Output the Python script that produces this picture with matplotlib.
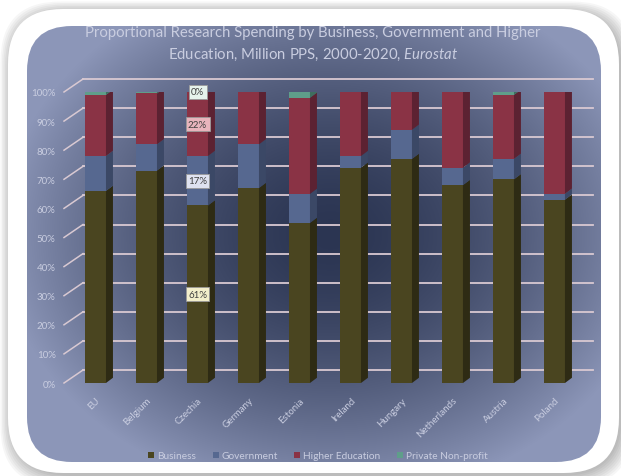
import numpy as np
import matplotlib
matplotlib.use("Agg")
import matplotlib.pyplot as plt
from matplotlib.patches import FancyBboxPatch, Polygon
from matplotlib.lines import Line2D

plt.rcParams['font.family'] = ['Lato', 'DejaVu Sans']
plt.rcParams['mathtext.fontset'] = 'custom'
plt.rcParams['mathtext.rm'] = 'Lato'
plt.rcParams['mathtext.it'] = 'Lato:italic'

countries = ["EU", "Belgium", "Czechia", "Germany", "Estonia", "Ireland",
             "Hungary", "Netherlands", "Austria", "Poland"]
business = [66, 73, 61, 67, 55, 74, 77, 68, 70, 63]
government = [12, 9, 17, 15, 10, 4, 10, 6, 7, 2]
higher_ed = [21, 17.5, 22, 18, 33, 22, 13, 26, 22, 35]
private_np = [1, 0.5, 0, 0, 2, 0, 0, 0, 1, 0]
series_names = ["Business", "Government", "Higher Education", "Private Non-profit"]
yticks = [0, 10, 20, 30, 40, 50, 60, 70, 80, 90, 100]
label_country = "Czechia"

front = ["#4a4520", "#566890", "#8a3345", "#5f9e8a"]
side = ["#2e2b14", "#3b4866", "#5c2232", "#3f6e5e"]
top_col = "#6fae98"
box_col = ["#f2eecb", "#dfe2f0", "#e8b4bc", "#e6f3ec"]
txt_col = "#c9cde0"
grid_col = "#d9c9d2"

W, H = 621, 477
fig = plt.figure(figsize=(W / 100, H / 100), dpi=100)
fig.patch.set_facecolor("white")

# background decoration in pixel coordinates
bg = fig.add_axes([0, 0, 1, 1], zorder=0)
bg.set_xlim(0, W)
bg.set_ylim(H, 0)
bg.axis("off")
for k in range(8):
    bg.add_patch(FancyBboxPatch((8 - k * 1.5 + 3, 10 - k * 1.5 + 3), 611 + k * 3, 464 + k * 3,
                                boxstyle="round,pad=0,rounding_size=60",
                                fc="#000000", ec="none", alpha=0.035))
bg.add_patch(FancyBboxPatch((8, 10), 611, 464, boxstyle="round,pad=0,rounding_size=55",
                            fc="white", ec="none"))
inner = FancyBboxPatch((27, 27), 574, 436, boxstyle="round,pad=0,rounding_size=45",
                       fc="none", ec="none")
bg.add_patch(inner)
yy, xx = np.mgrid[0:H, 0:W]
d = np.sqrt(((xx - 330) / 330.0) ** 2 + ((yy - 235) / 265.0) ** 2)
t = np.clip(d, 0, 1) ** 1.6
dark = np.array([0x2b, 0x35, 0x52]) / 255.0
light = np.array([0x8c, 0x96, 0xb8]) / 255.0
img = dark[None, None, :] + (light - dark)[None, None, :] * t[:, :, None]
im = bg.imshow(img, extent=(0, W, H, 0), zorder=1)
im.set_clip_path(inner)

# main axes
x0, x1 = 64, 590
yb, yt = 384, 93
ax = fig.add_axes([x0 / W, 1 - yb / H, (x1 - x0) / W, (yb - yt) / H], zorder=2)
ax.patch.set_alpha(0)
for s in ax.spines.values():
    s.set_visible(False)
ax.set_xlim(-0.618, 9.696)
ax.set_ylim(0, 100)

gdy = 13 / 2.91
gx0 = -0.245
for v in yticks:
    ax.add_line(Line2D([-0.618, gx0], [v, v + gdy], color=grid_col, lw=1.1, clip_on=False, zorder=1))
    ax.add_line(Line2D([gx0, 9.75], [v + gdy, v + gdy], color=grid_col, lw=1.3, clip_on=False, zorder=1))

ax.set_yticks(yticks)
ax.set_yticklabels([f"{v}%" for v in yticks], color=txt_col, fontsize=7)
ax.set_xticks(range(len(countries)))
ax.set_xticklabels(countries, rotation=45, ha="right", va="top", rotation_mode="anchor",
                   color=txt_col, fontsize=7)
ax.tick_params(length=0, axis="y", pad=6)
ax.tick_params(length=0, axis="x", pad=9)

bw = 0.41
ddx, ddy = 0.137, 1.8
data = [business, government, higher_ed, private_np]
xs = np.arange(len(countries))
bottoms = np.zeros(len(countries))
for j, vals in enumerate(data):
    vals = np.array(vals, dtype=float)
    ax.bar(xs, vals, bw, bottom=bottoms, color=front[j], zorder=3, linewidth=0)
    for i in range(len(xs)):
        b, tp = bottoms[i], bottoms[i] + vals[i]
        if vals[i] > 0:
            xr = xs[i] + bw / 2
            ax.add_patch(Polygon([(xr, b), (xr + ddx, b + ddy), (xr + ddx, tp + ddy), (xr, tp)],
                                 closed=True, fc=side[j], ec="none", zorder=3))
    bottoms = bottoms + vals

for i in range(len(xs)):
    tp = bottoms[i]
    xl, xr = xs[i] - bw / 2, xs[i] + bw / 2
    ax.add_patch(Polygon([(xl, tp), (xl + ddx, tp + ddy), (xr + ddx, tp + ddy), (xr, tp)],
                         closed=True, fc=top_col, ec="none", zorder=4))

# data labels for Czechia
ci = countries.index(label_country)
b = 0
for j, vals in enumerate(data):
    v = vals[ci]
    yc = b + v / 2 if v > 0 else b
    ax.text(ci, yc, f"{v:.0f}%", ha="center", va="center", fontsize=7, color="#404040", zorder=6,
            bbox=dict(boxstyle="square,pad=0.25", fc=box_col[j], ec="#9a9a9a", lw=0.6))
    b += v

fig.text(313 / W, 1 - 33 / H, "Proportional Research Spending by Business, Government and Higher",
         ha="center", va="center", color=txt_col, fontsize=10.7)
fig.text(313 / W, 1 - 55 / H, r"Education, Million PPS, 2000-2020, $\mathit{Eurostat}$",
         ha="center", va="center", color=txt_col, fontsize=10.7)

handles = [plt.Rectangle((0, 0), 1, 1, fc=front[j], ec="none") for j in range(4)]
fig.legend(handles, series_names, loc="center", bbox_to_anchor=(318 / W, 1 - 457 / H), ncol=4,
           frameon=False, fontsize=7.3, labelcolor=txt_col, handlelength=0.6, handleheight=0.6,
           handletextpad=0.3, columnspacing=1.6, borderpad=0.1)

fig.savefig("out.png", dpi=100)
